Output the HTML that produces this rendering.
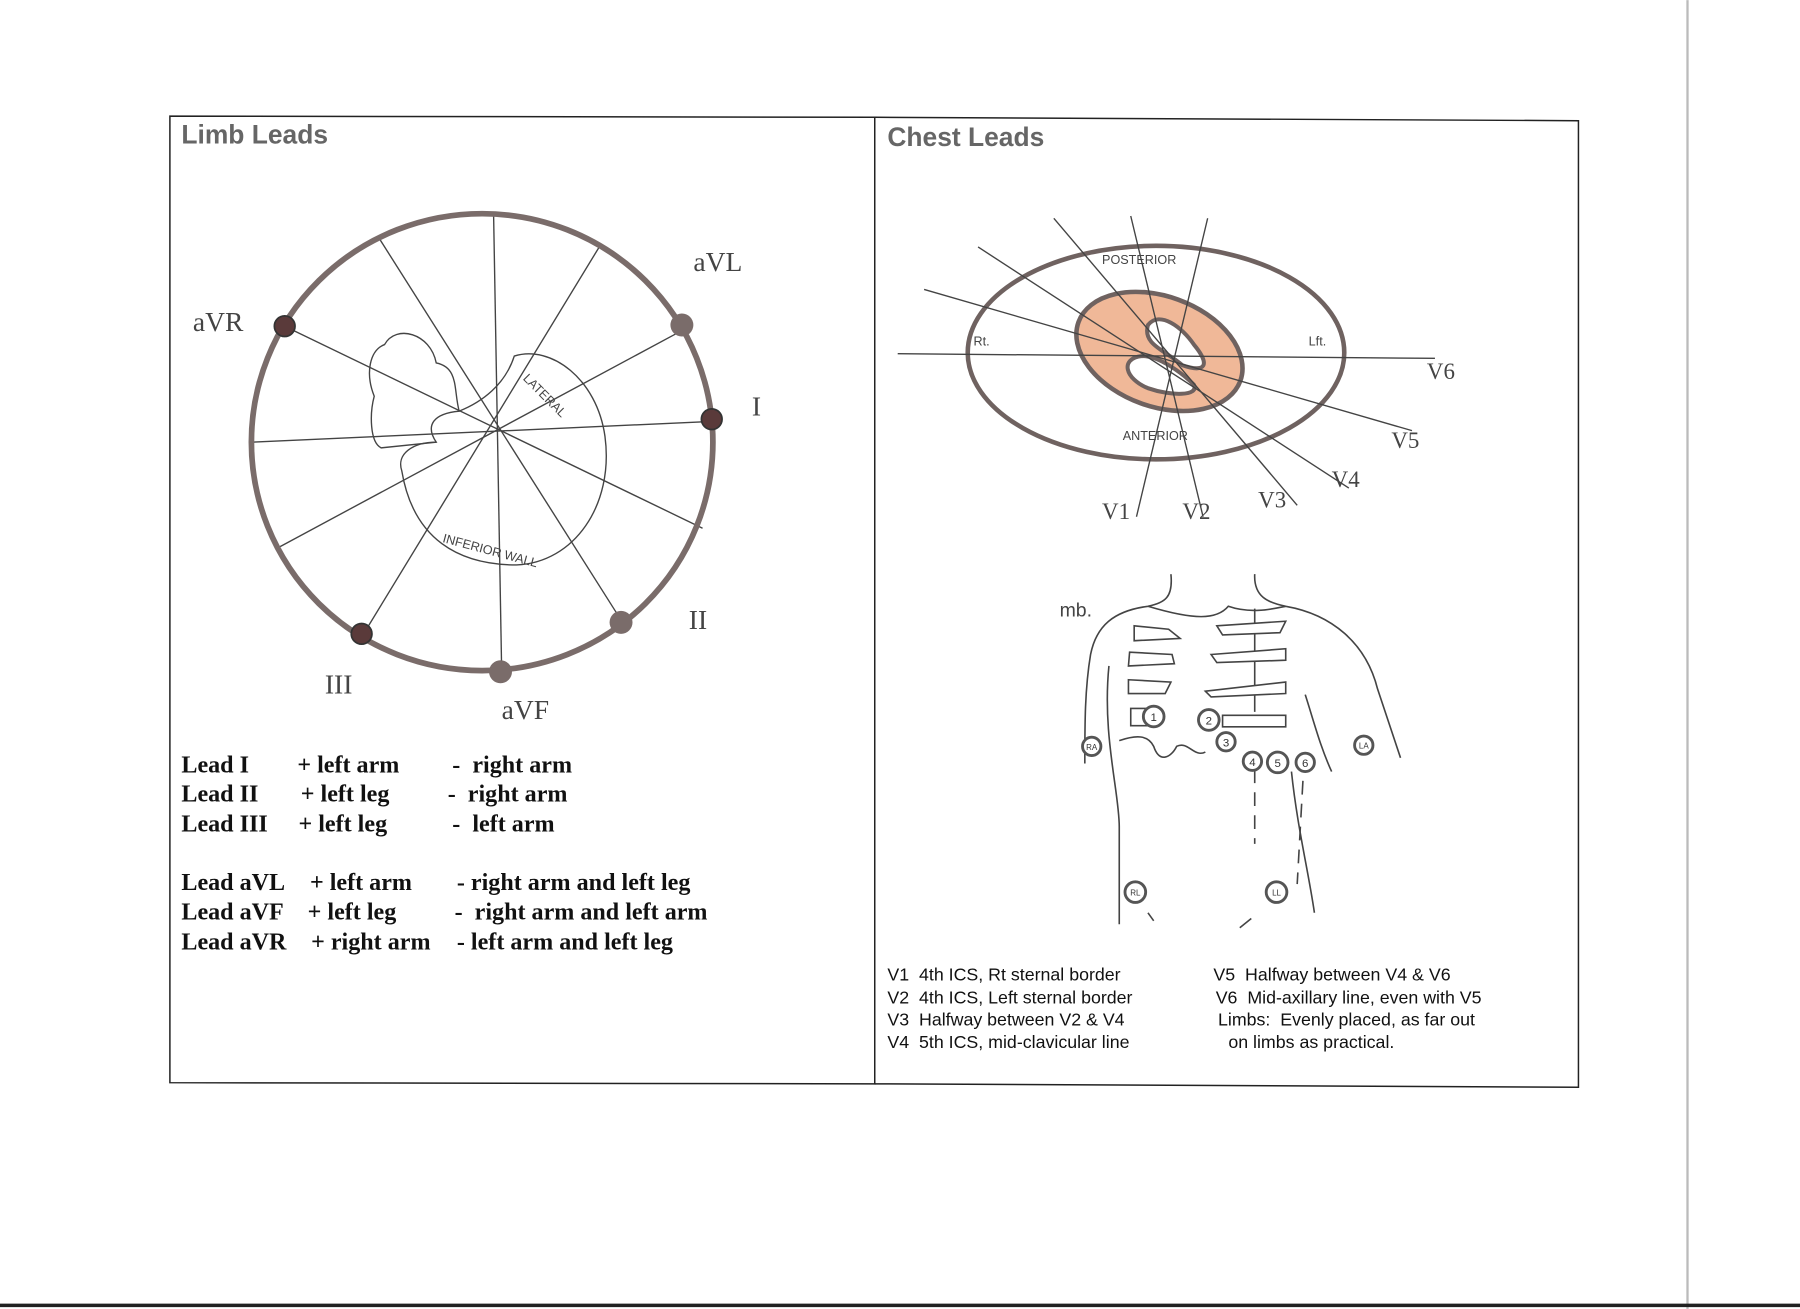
<!DOCTYPE html>
<html><head><meta charset="utf-8"><style>
html,body{margin:0;padding:0;background:#fff;}
svg{display:block}
text{white-space:pre}
.s{font-family:"Liberation Serif",serif;fill:#444}
.b{font-family:"Liberation Serif",serif;font-weight:bold;font-size:21px;fill:#111}
.a{font-family:"Liberation Sans",sans-serif;font-size:15.5px;fill:#111}
.h{font-family:"Liberation Sans",sans-serif;font-weight:bold;font-size:23px;fill:#666}
.t{font-family:"Liberation Sans",sans-serif;font-size:11px;fill:#444}
</style></head><body>
<svg width="1800" height="1309" viewBox="0 0 1568 1140" xmlns="http://www.w3.org/2000/svg" xml:space="preserve">
<rect width="1568" height="1140" fill="#fff"/>
<line x1="1470" y1="0" x2="1470" y2="1140" stroke="#bbb" stroke-width="2"/>
<line x1="0" y1="1137" x2="1568" y2="1137" stroke="#222" stroke-width="3"/>
<path d="M148 101 L762 102 L762 944 L148 943 Z" fill="none" stroke="#222" stroke-width="1.3"/>
<path d="M762 102 L1375 105 L1375 947 L762 944" fill="none" stroke="#222" stroke-width="1.3"/>
<text class="h" x="158" y="125">Limb Leads</text>
<text class="h" x="773" y="127">Chest Leads</text>

<g stroke="#444" stroke-width="1.2" fill="none">
<line x1="430" y1="188" x2="437" y2="584"/>
<line x1="330" y1="207" x2="541" y2="540"/>
<line x1="522" y1="215" x2="318" y2="550"/>
<line x1="250" y1="285" x2="612" y2="460"/>
<line x1="590" y1="290" x2="244" y2="476"/>
<line x1="220" y1="385" x2="620" y2="367"/>
<path d="M380 316 C375 290 345 282 335 300 C322 305 318 325 326 345 C322 360 322 385 332 390 L380 385 C370 370 378 360 400 358 C395 340 400 320 380 316 Z"/>
<path d="M400 358 C420 350 440 335 448 310 C480 300 520 330 527 380 C535 440 500 490 450 492 C400 492 360 470 350 410 C345 395 360 385 380 385"/>
</g>
<text class="t" x="455" y="330" transform="rotate(45 455 330)">LATERAL</text>
<text class="t" x="385" y="472" transform="rotate(15 385 472)">INFERIOR WALL</text>
<ellipse cx="420" cy="385" rx="201" ry="199" fill="none" stroke="#7a6c6a" stroke-width="5"/>
<g fill="#5a3a3a" stroke="#333" stroke-width="1.5">
<circle cx="248" cy="284" r="9"/>
<circle cx="620" cy="365" r="9"/>
<circle cx="315" cy="552" r="9"/>
</g>
<g fill="#7a6c6a">
<circle cx="594" cy="283" r="10"/>
<circle cx="541" cy="542" r="10"/>
<circle cx="436" cy="585" r="10"/>
</g>
<g class="s" font-size="24">
<text x="168" y="288">aVR</text>
<text x="604" y="236">aVL</text>
<text x="655" y="362">I</text>
<text x="600" y="548">II</text>
<text x="283" y="604">III</text>
<text x="437" y="626">aVF</text>
</g>
<g class="b">
<text x="158" y="673">Lead I</text><text x="259" y="673">+ left arm</text><text x="394" y="673">-  right arm</text>
<text x="158" y="698">Lead II</text><text x="262" y="698">+ left leg</text><text x="390" y="698">-  right arm</text>
<text x="158" y="724">Lead III</text><text x="260" y="724">+ left leg</text><text x="394" y="724">-  left arm</text>
<text x="158" y="775">Lead aVL</text><text x="270" y="775">+ left arm</text><text x="398" y="775">- right arm and left leg</text>
<text x="158" y="801">Lead aVF</text><text x="268" y="801">+ left leg</text><text x="396" y="801">-  right arm and left arm</text>
<text x="158" y="827">Lead aVR</text><text x="271" y="827">+ right arm</text><text x="398" y="827">- left arm and left leg</text>
</g>

<ellipse cx="1010" cy="306" rx="75" ry="48" transform="rotate(20 1010 306)" fill="#f0b898" stroke="#6f6260" stroke-width="4"/>
<path d="M1000 283 C1010 270 1030 285 1040 300 C1055 318 1050 325 1030 318 C1015 305 995 300 1000 283 Z" fill="#fff" stroke="#6f6260" stroke-width="3.5"/>
<path d="M995 310 C1010 310 1030 325 1040 335 C1045 345 1020 345 1000 338 C980 330 975 312 995 310 Z" fill="#fff" stroke="#6f6260" stroke-width="3.5"/>
<ellipse cx="1007" cy="307" rx="164" ry="93" fill="none" stroke="#6f6260" stroke-width="4"/>
<g stroke="#444" stroke-width="1.2">
<line x1="782" y1="308" x2="1250" y2="312"/>
<line x1="805" y1="252" x2="1230" y2="375"/>
<line x1="852" y1="215" x2="1175" y2="425"/>
<line x1="918" y1="190" x2="1130" y2="440"/>
<line x1="985" y1="188" x2="1048" y2="450"/>
<line x1="1052" y1="190" x2="990" y2="450"/>
</g>
<g class="t" font-size="12">
<text x="960" y="230">POSTERIOR</text>
<text x="978" y="383">ANTERIOR</text>
<text x="848" y="301">Rt.</text>
<text x="1140" y="301">Lft.</text>
</g>
<g class="s" font-size="20" fill="#555">
<text x="1243" y="330">V6</text><text x="1212" y="390">V5</text><text x="1160" y="424">V4</text>
<text x="1096" y="442">V3</text><text x="1030" y="452">V2</text><text x="960" y="452">V1</text>
</g>

<g stroke="#444" stroke-width="1.4" fill="none">
<path d="M1020 500 C1022 520 1015 525 1000 528 C970 532 955 545 950 570 C945 600 945 630 945 665"/>
<path d="M1093 500 C1092 520 1105 525 1120 528 C1160 535 1190 560 1200 600 C1210 630 1215 645 1220 660"/>
<path d="M1000 528 C1040 540 1060 540 1070 528 C1090 535 1110 530 1120 528"/>
<path d="M966 580 C960 640 975 690 975 720 C975 760 975 790 975 805"/>
<path d="M1137 605 C1145 630 1150 650 1160 672"/>
<path d="M1125 672 C1130 720 1140 760 1145 795"/>
<path d="M975 645 C990 640 1000 640 1005 650 C1010 665 1020 660 1025 650 C1035 645 1040 660 1050 655"/>
<line x1="1000" y1="795" x2="1005" y2="802"/><line x1="1090" y1="800" x2="1080" y2="808"/>
<path d="M1093 530 L1093 620" /><path d="M1093 670 L1093 735" stroke-dasharray="12 8"/>
<path d="M1135 680 L1130 770" stroke-dasharray="12 8"/>
</g>
<g fill="#fff" stroke="#444" stroke-width="1.4">
<path d="M988 545 l30 3 l10 8 l-40 2 z"/><path d="M984 568 l37 2 l2 8 l-40 2 z"/><path d="M983 592 l37 2 l-5 10 l-32 0 z"/><path d="M985 617 l15 0 l0 15 l-15 0 z"/>
<path d="M1060 545 l60 -4 l-5 10 l-50 2 z"/><path d="M1055 570 l65 -5 l0 10 l-60 2 z"/><path d="M1050 602 l70 -8 l0 10 l-65 3 z"/><path d="M1065 623 l55 0 l0 10 l-55 0 z"/>
</g>
<g stroke="#555" stroke-width="2.5" fill="#fff">
<circle cx="1005" cy="624" r="9"/><circle cx="1053" cy="627" r="9"/><circle cx="1068" cy="646" r="8"/>
<circle cx="1091" cy="663" r="8"/><circle cx="1113" cy="664" r="9"/><circle cx="1137" cy="664" r="8"/>
<circle cx="951" cy="650" r="8"/><circle cx="1188" cy="649" r="8"/><circle cx="989" cy="777" r="9"/><circle cx="1112" cy="777" r="9"/>
</g>
<g font-family="Liberation Sans,sans-serif" font-size="10" fill="#333" text-anchor="middle">
<text x="1005" y="628">1</text><text x="1053" y="631">2</text><text x="1068" y="650">3</text><text x="1091" y="667">4</text><text x="1113" y="668">5</text><text x="1137" y="668">6</text>
<text x="951" y="653" font-size="7">RA</text><text x="1188" y="652" font-size="7">LA</text><text x="989" y="780" font-size="7">RL</text><text x="1112" y="780" font-size="7">LL</text>
</g>
<text x="923" y="537" font-family="Liberation Sans,sans-serif" font-size="17" fill="#444">mb.</text>

<g class="a">
<text x="773" y="854">V1  4th ICS, Rt sternal border</text>
<text x="773" y="874">V2  4th ICS, Left sternal border</text>
<text x="773" y="893">V3  Halfway between V2 &amp; V4</text>
<text x="773" y="913">V4  5th ICS, mid-clavicular line</text>
<text x="1057" y="854">V5  Halfway between V4 &amp; V6</text>
<text x="1059" y="874">V6  Mid-axillary line, even with V5</text>
<text x="1061" y="893">Limbs:  Evenly placed, as far out</text>
<text x="1070" y="913">on limbs as practical.</text>
</g>
</svg>
</body></html>
